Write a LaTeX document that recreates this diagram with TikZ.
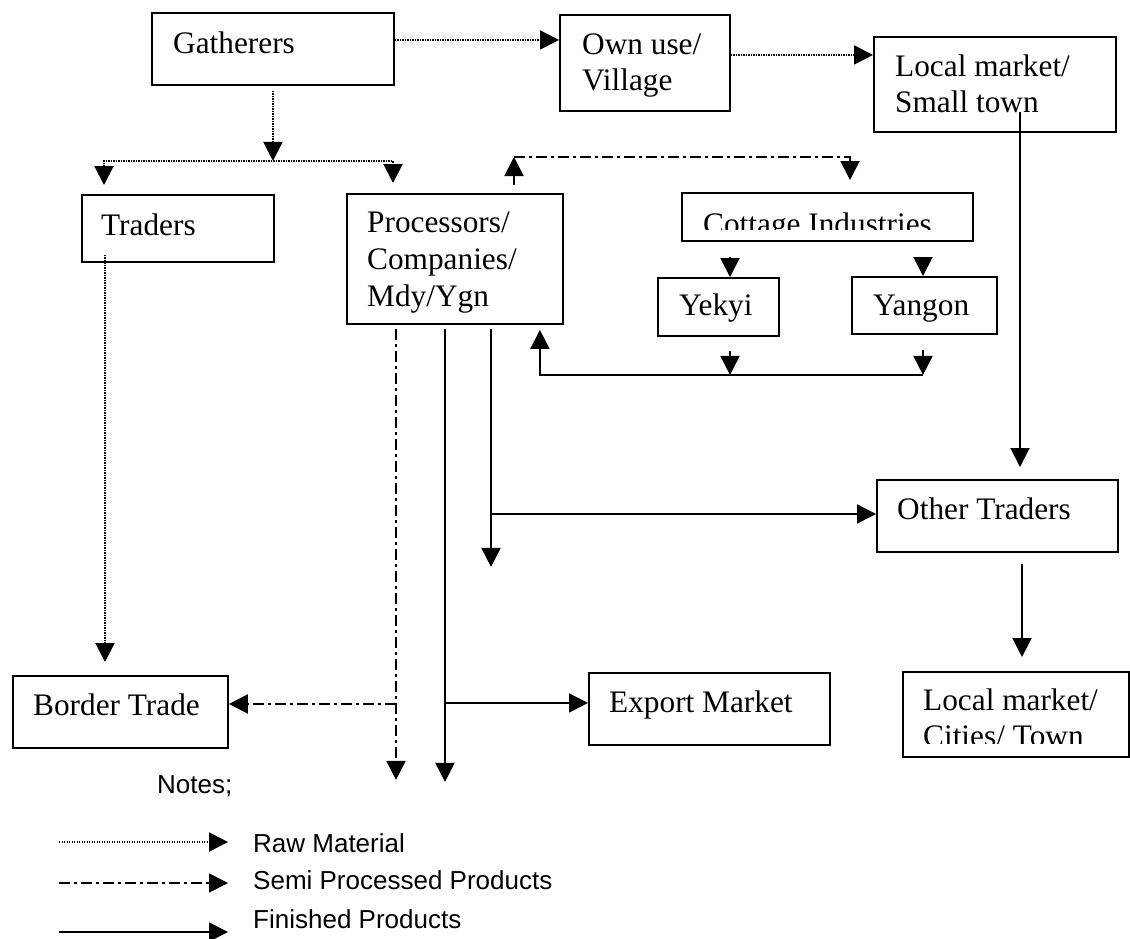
\documentclass[tikz,border=0pt]{standalone}
\usepackage{fontspec}
\setmainfont{Liberation Serif}
\newfontfamily\notesfont{Liberation Sans}
\usetikzlibrary{arrows.meta}

\begin{document}
\begin{tikzpicture}[x=1pt,y=-1pt,
  box/.style={draw, line width=1.9pt, inner sep=0pt, anchor=north west},
  lbl/.style={inner sep=0pt, anchor=base west, font=\fontsize{31.3}{36}\selectfont},
  note/.style={inner sep=0pt, anchor=base west, font=\notesfont\fontsize{26}{30}\selectfont},
  tipend/.style={-{Triangle[length=19pt,width=19pt]}},
  tipboth/.style={{Triangle[length=19pt,width=19pt]}-{Triangle[length=19pt,width=19pt]}},
  rawline/.style={line width=2pt, dash pattern=on 1.4pt off 1.1pt},
  semiline/.style={line width=2pt, dash pattern=on 11pt off 4pt on 3pt off 4pt},
  finline/.style={line width=2pt},
  raw/.style={rawline, tipend},
  semi/.style={semiline, tipend},
  fin/.style={finline, tipend}
]
\useasboundingbox (0,0) rectangle (1130,938);

% ---------- boxes ----------
\node[box, minimum width=242pt, minimum height=72pt] (gath) at (151,12) {};
\node[box, minimum width=170pt, minimum height=96pt] (own) at (559,14) {};
\node[box, minimum width=242pt, minimum height=95pt] (lsmall) at (873,36) {};
\node[box, minimum width=192pt, minimum height=67pt] (traders) at (81,194) {};
\node[box, minimum width=216pt, minimum height=130pt] (proc) at (346,193) {};
\node[box, minimum width=291pt, minimum height=48pt] (cottage) at (681,192) {};
\node[box, minimum width=121pt, minimum height=58pt] (yekyi) at (657,277) {};
\node[box, minimum width=145pt, minimum height=57pt] (yangon) at (851,276) {};
\node[box, minimum width=241pt, minimum height=72pt] (other) at (876,479) {};
\node[box, minimum width=215pt, minimum height=72pt] (border) at (12,675) {};
\node[box, minimum width=241pt, minimum height=72pt] (export) at (588,672) {};
\node[box, minimum width=226pt, minimum height=85pt] (lcity) at (902,671) {};

% ---------- box texts ----------
\node[lbl] (gath-t) at (173,53) {Gatherers};
\node[lbl] (own-t1) at (582,54) {Own use/};
\node[lbl] (own-t2) at (582,90) {Village};
\node[lbl] (lsmall-t1) at (895,76) {Local market/};
\node[lbl] (lsmall-t2) at (895,112) {Small town};
\node[lbl] (traders-t) at (101,235) {Traders};
\node[lbl] (proc-t1) at (367,232) {Processors/};
\node[lbl] (proc-t2) at (367,269) {Companies/};
\node[lbl] (proc-t3) at (367,306) {Mdy/Ygn};
\begin{scope}
  \clip (681,192) rectangle (972,229);
  \node[lbl] (cottage-t) at (703,234) {Cottage Industries};
\end{scope}
\node[lbl] (yekyi-t) at (679,315) {Yekyi};
\node[lbl] (yangon-t) at (873,315) {Yangon};
\node[lbl] (other-t) at (897,519) {Other Traders};
\node[lbl] (border-t) at (33,715) {Border Trade};
\node[lbl] (export-t) at (609,712) {Export Market};
\node[lbl] (lcity-t1) at (923,710) {Local market/};
\begin{scope}
  \clip (902,671) rectangle (1128,743);
  \node[lbl] (lcity-t2) at (923,746) {Cities/ Town};
\end{scope}

% ---------- raw material flows ----------
\draw[raw] ([yshift=9pt]gath.east) -- ([yshift=9pt]gath.east -| own.west);
\draw[raw] ([yshift=8pt]own.east) -- ([yshift=8pt]own.east -| lsmall.west);
\coordinate (split) at ([yshift=-75pt]gath.south);
\draw[raw] ([yshift=-5pt]gath.south) -- (split);
\coordinate (tr-in) at ([xshift=23pt,yshift=9pt]traders.north west);
\coordinate (pr-in) at ([xshift=47pt,yshift=10pt]proc.north west);
\draw[rawline, tipboth] (tr-in) -- (tr-in |- split) -- (split -| pr-in) -- (pr-in);
\draw[raw] ([xshift=24pt,yshift=8pt]traders.south west)
  -- ([xshift=93pt,yshift=13pt]border.north west);

% ---------- processors <-> cottage industries ----------
\coordinate (pc-up) at ([xshift=168pt,yshift=8pt]proc.north west);
\coordinate (pc-top) at ([xshift=168pt,yshift=36pt]proc.north west);
\draw[semi] (pc-up) -- (pc-top);
\draw[semi] (pc-top) -| ([xshift=169pt,yshift=12pt]cottage.north west);

% ---------- cottage industries ----------
\coordinate (ya) at ([xshift=49pt,yshift=-15pt]cottage.south west);
\coordinate (yb) at ([xshift=242pt,yshift=-15pt]cottage.south west);
\draw[fin] (ya) -- (ya |- yekyi.north);
\draw[fin] (yb) -- (yb |- yangon.north);
\coordinate (ret) at ([xshift=-24pt,yshift=-5pt]proc.south east);
\coordinate (bus) at ([yshift=-45pt]ret);
\coordinate (yk) at ([xshift=73pt,yshift=-14pt]yekyi.south west);
\coordinate (yg) at ([xshift=72pt,yshift=-15pt]yangon.south west);
\draw[fin] (yk) -- (yk |- bus);
\draw[fin] (yg) -- (yg |- bus);
\draw[fin] (yg |- bus) -- (bus) -- (ret);

% ---------- local market to other traders to cities ----------
\coordinate (ls) at ([xshift=147pt,yshift=21pt]lsmall.south west);
\coordinate (ot) at ([yshift=12pt]other.north);
\draw[fin] (ls) -- (ls |- ot);
\coordinate (os) at ([xshift=146pt,yshift=-11pt]other.south west);
\coordinate (lc) at ([yshift=14pt]lcity.north);
\draw[fin] (os) -- (os |- lc);

% ---------- processors outflows ----------
\coordinate (p1) at ([xshift=50pt,yshift=-4pt]proc.south west);
\coordinate (p2) at ([xshift=99pt,yshift=-4pt]proc.south west);
\coordinate (p3) at ([xshift=145pt,yshift=-4pt]proc.south west);
\draw[semi] (p1) -- ++(0,451);
\draw[fin] (p2) -- ++(0,453);
\draw[fin] (p3) -- ++(0,238);
\coordinate (ow) at ([yshift=2pt]other.west);
\coordinate (ew) at ([yshift=6pt]export.west);
\coordinate (be) at ([yshift=8pt]border.east);
\draw[fin] (p3 |- ow) -- (ow);
\draw[fin] (p2 |- ew) -- (ew);
\draw[semi] (p1 |- be) -- (be);

% ---------- notes ----------
\node[note] (notes) at (157,793) {Notes;};
\node[note] (lraw) at (253,852) {Raw Material};
\node[note] (lsemi) at (253,889) {Semi Processed Products};
\node[note] (lfin) at (253,928) {Finished Products};
\coordinate (k1a) at (59,842);
\coordinate (k2a) at (59,883);
\coordinate (k3a) at (59,932);
\draw[raw] (k1a) -- ++(169,0);
\draw[semi] (k2a) -- ++(169,0);
\draw[fin] (k3a) -- ++(169,0);
\end{tikzpicture}
\end{document}
